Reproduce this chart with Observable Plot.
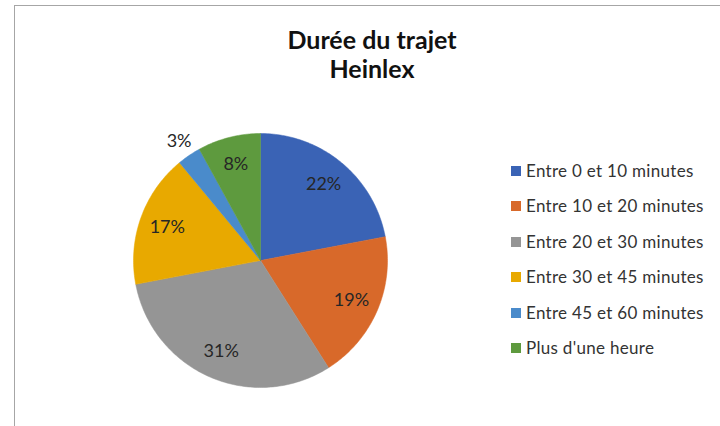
<!DOCTYPE html>
<html>
<head>
<meta charset="utf-8">
<script src="https://cdn.jsdelivr.net/npm/d3@7"></script>
<script src="https://cdn.jsdelivr.net/npm/@observablehq/plot@0.6"></script>
<style>
  html, body { margin: 0; padding: 0; background: #fff; }
  #wrap { position: relative; width: 720px; height: 426px; overflow: hidden; font-family: Lato, "Open Sans", sans-serif; }
  #frame { position: absolute; left: 14px; top: 5px; width: 800px; height: 500px; border-left: 1px solid #a6a6a6; border-top: 1px solid #a6a6a6; }
  #chart { position: absolute; left: 0; top: 0; }
  #title { position: absolute; left: 172px; width: 400px; top: 25px; text-align: center; font-weight: bold; font-size: 25px; line-height: 29px; color: #111; }
  #legend { position: absolute; left: 511px; top: 161px; }
  .row { height: 35.4px; display: flex; align-items: flex-start; font-size: 17px; letter-spacing: 0.3px; color: #333; line-height: 20px; }
  .sw { width: 10px; height: 10px; margin-top: 5px; margin-right: 5px; flex: none; }
</style>
</head>
<body>
<div id="wrap">
  <div id="frame"></div>
  <div id="chart"></div>
  <div id="title">Durée du trajet<br>Heinlex</div>
  <div id="legend"></div>
</div>
<script>
const categories = ["Entre 0 et 10 minutes", "Entre 10 et 20 minutes", "Entre 20 et 30 minutes", "Entre 30 et 45 minutes", "Entre 45 et 60 minutes", "Plus d'une heure"];
const shares = [22, 19, 31, 17, 3, 8];
const colors = ["#3a63b5", "#d8692a", "#959595", "#e8a900", "#4a8bcb", "#5e9a3e"];

const data = categories.map((c, i) => ({cat: c, value: shares[i]}));
const arcs = d3.pie().sort(null).value(d => d.value)(data);

// polygon points for each slice (unit circle, angle clockwise from top)
const slicePts = [];
for (const a of arcs) {
  const n = Math.max(2, Math.ceil((a.endAngle - a.startAngle) / (Math.PI / 180)));
  slicePts.push({cat: a.data.cat, x: 0, y: 0});
  for (let k = 0; k <= n; k++) {
    const t = a.startAngle + (a.endAngle - a.startAngle) * k / n;
    slicePts.push({cat: a.data.cat, x: Math.sin(t), y: Math.cos(t)});
  }
  slicePts.push({cat: a.data.cat, x: 0, y: 0});
}
const labels = arcs.map(a => {
  const m = (a.startAngle + a.endAngle) / 2;
  const r = a.data.value < 5 ? 1.14 : 0.78;
  return {x: r * Math.sin(m), y: r * Math.cos(m), text: a.data.value + "%"};
});

const plot = Plot.plot({
  width: 720,
  height: 426,
  margin: 0,
  x: {domain: [-1, 1], range: [133, 387], axis: null},
  y: {domain: [-1, 1], range: [387, 133], axis: null},
  color: {domain: categories, range: colors},
  style: {background: "transparent", fontFamily: "Lato, 'Open Sans', sans-serif"},
  marks: [
    Plot.line(slicePts, {x: "x", y: "y", z: "cat", fill: "cat", stroke: "cat", strokeWidth: 0.5, curve: "linear"}),
    Plot.text(labels, {x: "x", y: "y", text: "text", fontSize: 18, fill: "#262626"})
  ]
});
document.getElementById("chart").appendChild(plot);

const legend = document.getElementById("legend");
categories.forEach((c, i) => {
  const row = document.createElement("div");
  row.className = "row";
  const sw = document.createElement("div");
  sw.className = "sw";
  sw.style.background = colors[i];
  const tx = document.createElement("span");
  tx.textContent = c;
  row.appendChild(sw);
  row.appendChild(tx);
  legend.appendChild(row);
});
</script>
</body>
</html>
